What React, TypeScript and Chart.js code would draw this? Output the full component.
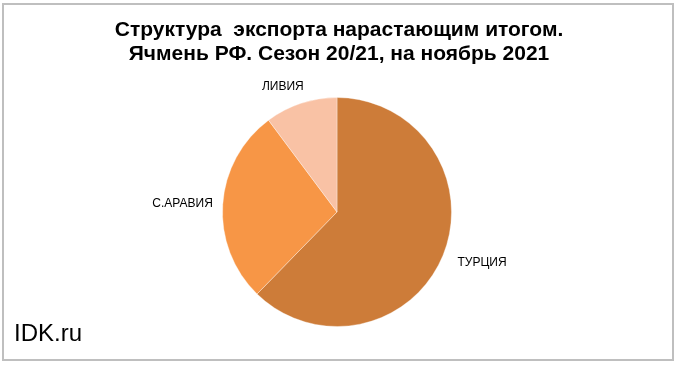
import React, { useEffect, useRef } from "react";
import { Chart, registerables } from "chart.js";

Chart.register(...registerables);

const categories = ["ТУРЦИЯ", "С.АРАВИЯ", "ЛИВИЯ"];
const shares = [62.3, 27.5, 10.2];
const colors = ["#CD7C39", "#F79646", "#F9C2A5"];
const titleLines = ["Структура  экспорта нарастающим итогом.", "Ячмень РФ. Сезон 20/21, на ноябрь 2021"];
const watermark = "IDK.ru";

const labelNudge = [
  [6, 1],
  [1, 0],
  [-8, -1],
];

const decorPlugin = {
  id: "decor",
  beforeDraw(chart: any) {
    const ctx = chart.ctx;
    ctx.save();
    ctx.fillStyle = "#FFFFFF";
    ctx.fillRect(0, 0, chart.width, chart.height);
    ctx.strokeStyle = "#BFBFBF";
    ctx.lineWidth = 2;
    ctx.strokeRect(3, 4, 670, 356);
    ctx.fillStyle = "#000000";
    ctx.textAlign = "center";
    ctx.textBaseline = "middle";
    ctx.font = "bold 21px 'Liberation Sans', Arial, sans-serif";
    titleLines.forEach((t, i) => ctx.fillText(t, 339, 30 + i * 24));
    ctx.textAlign = "left";
    ctx.font = "24px 'Liberation Sans', Arial, sans-serif";
    ctx.fillText(watermark, 14, 334);
    ctx.restore();
  },
  afterDatasetsDraw(chart: any) {
    const ctx = chart.ctx;
    const meta = chart.getDatasetMeta(0);
    ctx.save();
    ctx.font = "12px 'Liberation Sans', Arial, sans-serif";
    ctx.fillStyle = "#000000";
    ctx.textAlign = "center";
    ctx.textBaseline = "middle";
    meta.data.forEach((arc: any, i: number) => {
      const mid = (arc.startAngle + arc.endAngle) / 2;
      const dx = Math.cos(mid);
      const dy = Math.sin(mid);
      const label = categories[i];
      const w = ctx.measureText(label).width;
      const h = 12;
      const r = arc.outerRadius + 11;
      const cx = arc.x + dx * r + (dx * w) / 2 + labelNudge[i][0];
      const cy = arc.y + dy * r + (dy * h) / 2 + labelNudge[i][1];
      ctx.fillText(label, cx, cy);
    });
    ctx.restore();
  },
};

export default function App() {
  const ref = useRef<HTMLCanvasElement | null>(null);
  useEffect(() => {
    if (!ref.current) return;
    const chart = new Chart(ref.current, {
      type: "pie",
      data: {
        labels: categories,
        datasets: [
          {
            data: shares,
            backgroundColor: colors,
            borderColor: "rgba(255,255,255,0.35)",
            borderWidth: 1,
          },
        ],
      },
      options: {
        responsive: false,
        animation: false,
        layout: { padding: { top: 97, bottom: 40, left: 222, right: 228 } },
        plugins: {
          legend: { display: false },
          title: { display: false },
          tooltip: { enabled: false },
        },
      },
      plugins: [decorPlugin],
    });
    return () => chart.destroy();
  }, []);
  return (
    <div style={{ position: "fixed", left: 0, top: 0, width: 680, height: 367 }}>
      <canvas ref={ref} width={680} height={367} style={{ display: "block" }} />
    </div>
  );
}
